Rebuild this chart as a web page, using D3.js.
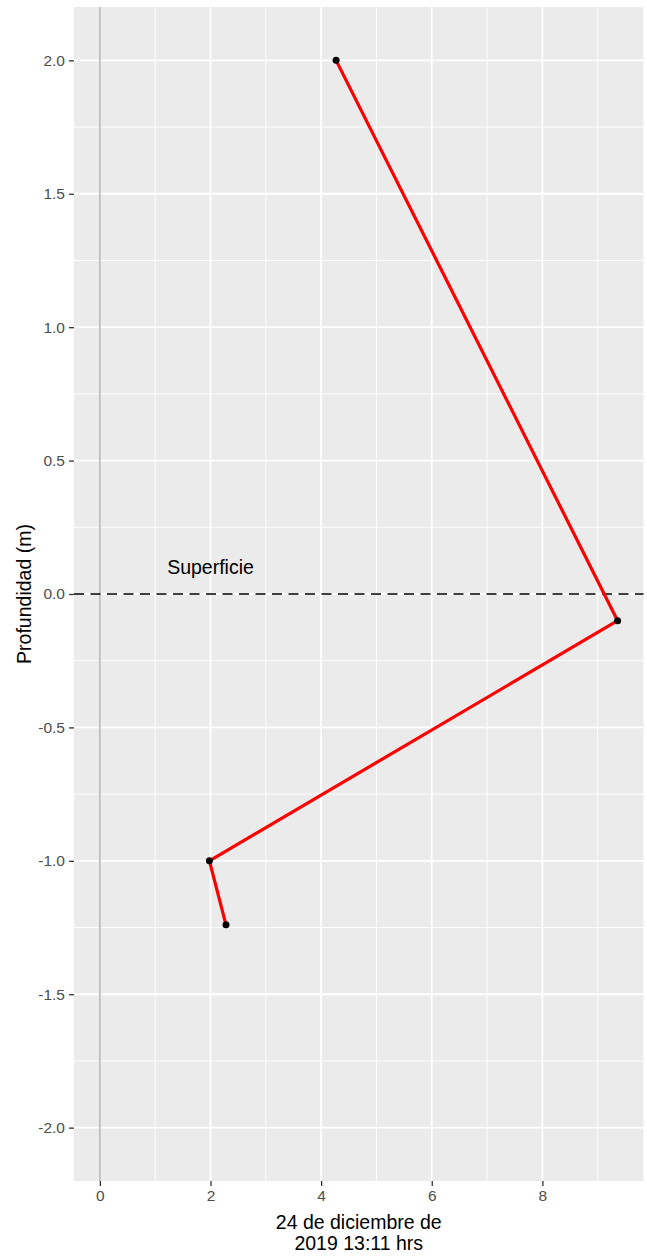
<!DOCTYPE html>
<html>
<head>
<meta charset="utf-8">
<script src="https://cdn.jsdelivr.net/npm/d3@7"></script>
<style>
  body { margin: 0; background: #fff; }
  text { font-family: "Liberation Sans", Arial, sans-serif; }
</style>
</head>
<body>
<div id="chart"></div>
<script>
// values
var lectura = [4.27, 9.36, 1.98, 2.28];      // x
var profundidad = [2.0, -0.1, -1.0, -1.24];  // depth (m)
var xTicks = [0, 2, 4, 6, 8];
var xMinor = [1, 3, 5, 7, 9];
var yTicks = [-2.0, -1.5, -1.0, -0.5, 0.0, 0.5, 1.0, 1.5, 2.0];
var yMinor = [-1.75, -1.25, -0.75, -0.25, 0.25, 0.75, 1.25, 1.75];
var etiqueta = {x: 2, y: 0.1, text: "Superficie"};
var xTitle = ["24 de diciembre de", "2019 13:11 hrs"];
var yTitle = "Profundidad (m)";

var W = 647, H = 1256;
var margin = {top: 7, right: 3.5, bottom: 75, left: 74};

var svg = d3.select("#chart").append("svg")
	.attr("width", W)
	.attr("height", H);

// ggplot style 5% expansion (range includes the vline at 0)
var xmin = 0, xmax = d3.max(lectura);
var xpad = (xmax - xmin) * 0.05;
var x = d3.scaleLinear()
	.domain([xmin - xpad, xmax + xpad])
	.range([margin.left, W - margin.right]);

var y = d3.scaleLinear()
	.domain([-2.2, 2.2])
	.range([H - margin.bottom, margin.top]);

var x0 = margin.left, x1 = W - margin.right;
var y0 = margin.top, y1 = H - margin.bottom;

// panel
svg.append("rect")
	.attr("x", x0).attr("y", y0)
	.attr("width", x1 - x0).attr("height", y1 - y0)
	.attr("fill", "#EBEBEB");

var grid = svg.append("g");
grid.selectAll(".minx").data(xMinor).enter().append("line")
	.attr("x1", function(d){ return x(d); }).attr("x2", function(d){ return x(d); })
	.attr("y1", y0).attr("y2", y1)
	.attr("stroke", "#fff").attr("stroke-width", 0.9);
grid.selectAll(".miny").data(yMinor).enter().append("line")
	.attr("y1", function(d){ return y(d); }).attr("y2", function(d){ return y(d); })
	.attr("x1", x0).attr("x2", x1)
	.attr("stroke", "#fff").attr("stroke-width", 0.9);
grid.selectAll(".majx").data(xTicks).enter().append("line")
	.attr("x1", function(d){ return x(d); }).attr("x2", function(d){ return x(d); })
	.attr("y1", y0).attr("y2", y1)
	.attr("stroke", "#fff").attr("stroke-width", 1.8);
grid.selectAll(".majy").data(yTicks).enter().append("line")
	.attr("y1", function(d){ return y(d); }).attr("y2", function(d){ return y(d); })
	.attr("x1", x0).attr("x2", x1)
	.attr("stroke", "#fff").attr("stroke-width", 1.8);

// vertical reference at 0
svg.append("line")
	.attr("x1", x(0)).attr("x2", x(0))
	.attr("y1", y0).attr("y2", y1)
	.attr("stroke", "#BEBEBE").attr("stroke-width", 1.8);

// surface line
svg.append("line")
	.attr("x1", x0).attr("x2", x1)
	.attr("y1", y(0)).attr("y2", y(0))
	.attr("stroke", "#000").attr("stroke-width", 1.7)
	.attr("stroke-dasharray", "10,6.5");

svg.append("text")
	.attr("x", x(etiqueta.x)).attr("y", y(etiqueta.y))
	.attr("text-anchor", "middle").attr("dy", "0.35em")
	.attr("font-size", "19.5px").attr("fill", "#000")
	.text(etiqueta.text);

// profile
var pts = lectura.map(function(d, i){ return [d, profundidad[i]]; });
var line = d3.line()
	.x(function(d){ return x(d[0]); })
	.y(function(d){ return y(d[1]); });

svg.append("path")
	.datum(pts)
	.attr("d", line)
	.attr("fill", "none")
	.attr("stroke", "#FF0000")
	.attr("stroke-width", 3.2)
	.attr("stroke-linejoin", "round");

svg.selectAll(".pt").data(pts).enter().append("circle")
	.attr("cx", function(d){ return x(d[0]); })
	.attr("cy", function(d){ return y(d[1]); })
	.attr("r", 3.5)
	.attr("fill", "#000");

// axes (plain hyphen for negatives, like R)
var fmtY = function(d){ return d3.format(".1f")(d).replace("\u2212", "-"); };
var xAxis = svg.append("g")
	.attr("transform", "translate(0," + y1 + ")")
	.call(d3.axisBottom(x).tickValues(xTicks).tickSize(5).tickPadding(4).tickFormat(d3.format("d")));
var yAxis = svg.append("g")
	.attr("transform", "translate(" + x0 + ",0)")
	.call(d3.axisLeft(y).tickValues(yTicks).tickSize(5).tickPadding(4).tickFormat(fmtY));

[xAxis, yAxis].forEach(function(a){
	a.select(".domain").remove();
	a.selectAll(".tick line").attr("stroke", "#333333").attr("stroke-width", 1.3);
	a.selectAll(".tick text")
		.attr("fill", "#4D4D4D")
		.attr("font-size", "15.5px")
		.attr("font-family", "Liberation Sans, Arial, sans-serif");
});

// titles
var xt = svg.append("text")
	.attr("x", (x0 + x1) / 2)
	.attr("text-anchor", "middle")
	.attr("font-size", "19.5px").attr("fill", "#000");
xTitle.forEach(function(t, i){
	xt.append("tspan")
		.attr("x", (x0 + x1) / 2)
		.attr("y", 1229 + i * 21)
		.text(t);
});

svg.append("text")
	.attr("transform", "translate(31," + ((y0 + y1) / 2) + ") rotate(-90)")
	.attr("text-anchor", "middle")
	.attr("font-size", "19.5px").attr("fill", "#000")
	.text(yTitle);
</script>
</body>
</html>
